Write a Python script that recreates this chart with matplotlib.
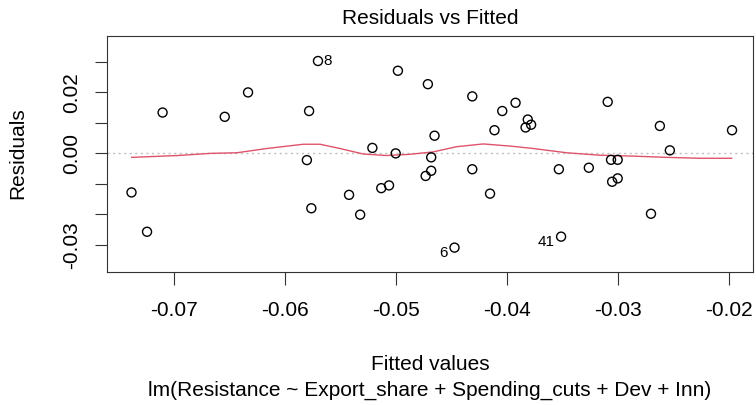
import numpy as np
import matplotlib.pyplot as plt

plt.rcParams['font.family'] = ['Liberation Sans', 'DejaVu Sans']

# fitted values and residuals
fitted = [-0.0738, -0.0724, -0.0710, -0.0654, -0.0633, -0.0578, -0.0580, -0.0576, -0.0570,
          -0.0498, -0.0471, -0.0431, -0.0392, -0.0404, -0.0411, -0.0465, -0.0521, -0.0500,
          -0.0468, -0.0468, -0.0473, -0.0431, -0.0506, -0.0513, -0.0542, -0.0415, -0.0532,
          -0.0447, -0.0381, -0.0383, -0.0378, -0.0309, -0.0262, -0.0197, -0.0253, -0.0353,
          -0.0326, -0.0306, -0.0300, -0.0305, -0.0300, -0.0270, -0.0351]
resid = [-0.0128, -0.0257, 0.0134, 0.0120, 0.0200, 0.0139, -0.0022, -0.0180, 0.0303,
         0.0271, 0.0227, 0.0187, 0.0166, 0.0139, 0.0076, 0.0058, 0.0018, 0.0000,
         -0.0013, -0.0057, -0.0074, -0.0052, -0.0105, -0.0114, -0.0136, -0.0132, -0.0201,
         -0.0309, 0.0111, 0.0085, 0.0094, 0.0169, 0.0090, 0.0076, 0.0010, -0.0052,
         -0.0047, -0.0021, -0.0021, -0.0093, -0.0082, -0.0198, -0.0273]

# smoother line
smooth_x = [-0.07378, -0.06964, -0.06673, -0.06432, -0.06162, -0.05832, -0.05682, -0.05502,
            -0.05292, -0.05081, -0.04871, -0.04661, -0.04450, -0.04211, -0.03970, -0.03760,
            -0.03459, -0.03159, -0.02859, -0.02559, -0.02259, -0.01973]
smooth_y = [-0.0013, -0.0007, 0.0000, 0.0002, 0.0016, 0.0030, 0.0030, 0.0016,
            -0.0002, -0.0007, -0.0003, 0.0005, 0.0022, 0.0031, 0.0024, 0.0016,
            0.0002, -0.0006, -0.0009, -0.0013, -0.0016, -0.0016]

# labelled outliers: (label, x, y, side)
outliers = [('8', -0.0570, 0.0303, 'right'), ('6', -0.0447, -0.0309, 'left'),
            ('41', -0.0351, -0.0273, 'left')]

xticks = [-0.07, -0.06, -0.05, -0.04, -0.03, -0.02]
xticklabels = ['-0.07', '-0.06', '-0.05', '-0.04', '-0.03', '-0.02']
yticks = [-0.03, -0.02, -0.01, 0.00, 0.01, 0.02, 0.03]
yticklabels = ['-0.03', '', '', '0.00', '', '0.02', '']

W, H = 756, 405
fig = plt.figure(figsize=(W / 100, H / 100), dpi=100)
ax = fig.add_axes([107.3 / W, 1 - 271.7 / H, (753 - 107.3) / W, (271.7 - 36) / H])

fs = 15
ax.axhline(0, color='#BEBEBE', linestyle=(0, (1.5, 2.5)), linewidth=1.0, zorder=1)
ax.scatter(fitted, resid, s=42, facecolors='none', edgecolors='black', linewidths=1.0, zorder=3)
ax.plot(smooth_x, smooth_y, color='#DF536B', linewidth=1.0, zorder=2)

for lab, x, y, side in outliers:
    if side == 'right':
        ax.annotate(lab, (x, y), xytext=(4, 0), textcoords='offset points',
                    ha='left', va='center', fontsize=11)
    else:
        ax.annotate(lab, (x, y), xytext=(-5, -4), textcoords='offset points',
                    ha='right', va='center', fontsize=11)

ax.set_xlim(-0.07598, -0.01781)
ax.set_ylim(-0.0388, 0.0385)
ax.set_xticks(xticks)
ax.set_xticklabels(xticklabels)
ax.set_yticks(yticks)
ax.set_yticklabels(yticklabels, rotation=90, va='center')
ax.tick_params(axis='both', length=9, width=0.8, labelsize=fs, color='#333333')
ax.tick_params(axis='x', pad=12)
ax.tick_params(axis='y', pad=10)
for sp in ax.spines.values():
    sp.set_linewidth(0.8)
    sp.set_color('#333333')

fig.text(18 / W, 1 - 153 / H, 'Residuals', rotation=90, ha='center', va='center', fontsize=fs)
fig.text(430 / W, 1 - 19 / H, 'Residuals vs Fitted', ha='center', va='center', fontsize=fs)
fig.text(430 / W, 1 - 364 / H, 'Fitted values', ha='center', va='center', fontsize=fs)
fig.text(430 / W, 1 - 390 / H, 'lm(Resistance ~ Export_share + Spending_cuts + Dev + Inn)',
         ha='center', va='center', fontsize=fs)

fig.savefig('out.png', dpi=100)
